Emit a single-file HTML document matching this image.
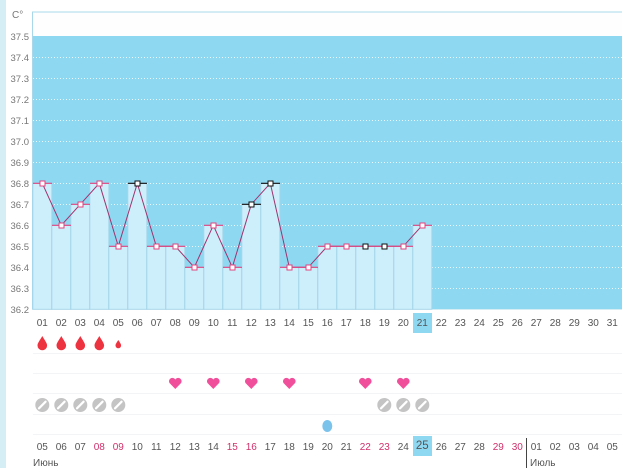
<!DOCTYPE html>
<html><head><meta charset="utf-8"><style>
html,body{margin:0;padding:0;background:#fff;}
svg{display:block;font-family:"Liberation Sans",sans-serif;}
</style></head><body>
<svg width="622" height="468" xmlns="http://www.w3.org/2000/svg">
<rect x="0" y="0" width="622" height="468" fill="#fff"/>
<rect x="0" y="0" width="6" height="468" fill="#d5eef6"/>
<rect x="32.5" y="12" width="590" height="297" fill="#fefefe" stroke="#a8d8ea" stroke-width="1"/>
<rect x="33" y="36" width="589" height="273" fill="#8fd8f2"/>
<g stroke="#e8f7fc" stroke-dasharray="1,2" stroke-width="1">
<line x1="33" x2="622" y1="57.5" y2="57.5"/><line x1="33" x2="622" y1="78.5" y2="78.5"/>
<line x1="33" x2="622" y1="99.5" y2="99.5"/><line x1="33" x2="622" y1="120.5" y2="120.5"/>
<line x1="33" x2="622" y1="141.5" y2="141.5"/><line x1="33" x2="622" y1="162.5" y2="162.5"/>
<line x1="33" x2="622" y1="183.5" y2="183.5"/><line x1="33" x2="622" y1="204.5" y2="204.5"/>
<line x1="33" x2="622" y1="225.5" y2="225.5"/><line x1="33" x2="622" y1="246.5" y2="246.5"/>
<line x1="33" x2="622" y1="267.5" y2="267.5"/><line x1="33" x2="622" y1="288.5" y2="288.5"/>
</g>
<g fill="#cdeefb" stroke="#a6d6ea" stroke-width="1">
<rect x="32.8" y="183.3" width="19" height="126"/>
<rect x="51.8" y="225.3" width="19" height="84"/>
<rect x="70.8" y="204.3" width="19" height="105"/>
<rect x="89.8" y="183.3" width="19" height="126"/>
<rect x="108.8" y="246.3" width="19" height="63"/>
<rect x="127.8" y="183.3" width="19" height="126"/>
<rect x="146.8" y="246.3" width="19" height="63"/>
<rect x="165.8" y="246.3" width="19" height="63"/>
<rect x="184.8" y="267.3" width="19" height="42"/>
<rect x="203.8" y="225.3" width="19" height="84"/>
<rect x="222.8" y="267.3" width="19" height="42"/>
<rect x="241.8" y="204.3" width="19" height="105"/>
<rect x="260.8" y="183.3" width="19" height="126"/>
<rect x="279.8" y="267.3" width="19" height="42"/>
<rect x="298.8" y="267.3" width="19" height="42"/>
<rect x="317.8" y="246.3" width="19" height="63"/>
<rect x="336.8" y="246.3" width="19" height="63"/>
<rect x="355.8" y="246.3" width="19" height="63"/>
<rect x="374.8" y="246.3" width="19" height="63"/>
<rect x="393.8" y="246.3" width="19" height="63"/>
<rect x="412.8" y="225.3" width="19" height="84"/>
</g>
<text x="12" y="18" fill="#777" font-size="10">C°</text>
<g fill="#777" font-size="9.5" text-anchor="end">
<text x="29" y="40">37.5</text><text x="29" y="61">37.4</text><text x="29" y="82">37.3</text>
<text x="29" y="103">37.2</text><text x="29" y="124">37.1</text><text x="29" y="145">37.0</text>
<text x="29" y="166">36.9</text><text x="29" y="187">36.8</text><text x="29" y="208">36.7</text>
<text x="29" y="229">36.6</text><text x="29" y="250">36.5</text><text x="29" y="271">36.4</text>
<text x="29" y="292">36.3</text><text x="29" y="313">36.2</text>
</g>
<polyline fill="none" stroke="#a0336e" stroke-width="1" points="42.3,183.3 61.3,225.3 80.3,204.3 99.3,183.3 118.3,246.3 137.3,183.3 156.3,246.3 175.3,246.3 194.3,267.3 213.3,225.3 232.3,267.3 251.3,204.3 270.3,183.3 289.3,267.3 308.3,267.3 327.3,246.3 346.3,246.3 365.3,246.3 384.3,246.3 403.3,246.3 422.3,225.3"/>
<g stroke-width="1.2">
<g stroke="#e0457f">
<line x1="33" x2="52" y1="183.3" y2="183.3"/><line x1="52" x2="71" y1="225.3" y2="225.3"/>
<line x1="71" x2="90" y1="204.3" y2="204.3"/><line x1="90" x2="109" y1="183.3" y2="183.3"/>
<line x1="109" x2="128" y1="246.3" y2="246.3"/><line x1="147" x2="166" y1="246.3" y2="246.3"/>
<line x1="166" x2="185" y1="246.3" y2="246.3"/><line x1="185" x2="204" y1="267.3" y2="267.3"/>
<line x1="204" x2="223" y1="225.3" y2="225.3"/><line x1="223" x2="242" y1="267.3" y2="267.3"/>
<line x1="280" x2="299" y1="267.3" y2="267.3"/><line x1="299" x2="318" y1="267.3" y2="267.3"/>
<line x1="318" x2="337" y1="246.3" y2="246.3"/><line x1="337" x2="356" y1="246.3" y2="246.3"/>
<line x1="356" x2="375" y1="246.3" y2="246.3"/><line x1="375" x2="394" y1="246.3" y2="246.3"/>
<line x1="394" x2="413" y1="246.3" y2="246.3"/><line x1="413" x2="432" y1="225.3" y2="225.3"/>
</g>
<g stroke="#111">
<line x1="128" x2="147" y1="183.3" y2="183.3"/><line x1="242" x2="261" y1="204.3" y2="204.3"/>
<line x1="261" x2="280" y1="183.3" y2="183.3"/>
</g>
</g>
<g fill="#fff" stroke="#e0457f" stroke-width="1">
<rect x="40" y="181" width="5" height="5"/><rect x="59" y="223" width="5" height="5"/>
<rect x="78" y="202" width="5" height="5"/><rect x="97" y="181" width="5" height="5"/>
<rect x="116" y="244" width="5" height="5"/><rect x="154" y="244" width="5" height="5"/>
<rect x="173" y="244" width="5" height="5"/><rect x="192" y="265" width="5" height="5"/>
<rect x="211" y="223" width="5" height="5"/><rect x="230" y="265" width="5" height="5"/>
<rect x="287" y="265" width="5" height="5"/><rect x="306" y="265" width="5" height="5"/>
<rect x="325" y="244" width="5" height="5"/><rect x="344" y="244" width="5" height="5"/>
<rect x="401" y="244" width="5" height="5"/><rect x="420" y="223" width="5" height="5"/>
</g>
<g fill="#fff" stroke="#111" stroke-width="1">
<rect x="135" y="181" width="5" height="5"/><rect x="249" y="202" width="5" height="5"/>
<rect x="268" y="181" width="5" height="5"/><rect x="363" y="244" width="5" height="5"/>
<rect x="382" y="244" width="5" height="5"/>
</g>
<g stroke="#f2f4f6" stroke-width="1">
<line x1="33" x2="622" y1="353.5" y2="353.5"/><line x1="33" x2="622" y1="373.5" y2="373.5"/>
<line x1="33" x2="622" y1="393.5" y2="393.5"/><line x1="33" x2="622" y1="414.5" y2="414.5"/>
<line x1="33" x2="622" y1="434.5" y2="434.5"/>
</g>
<rect x="413" y="313" width="19" height="20" fill="#8fd8f2"/>
<rect x="413" y="436" width="19" height="20" fill="#8fd8f2"/>
<g fill="#555" font-size="10" text-anchor="middle">
<text x="42.3" y="326">01</text><text x="61.3" y="326">02</text><text x="80.3" y="326">03</text><text x="99.3" y="326">04</text><text x="118.3" y="326">05</text><text x="137.3" y="326">06</text><text x="156.3" y="326">07</text><text x="175.3" y="326">08</text><text x="194.3" y="326">09</text><text x="213.3" y="326">10</text><text x="232.3" y="326">11</text><text x="251.3" y="326">12</text><text x="270.3" y="326">13</text><text x="289.3" y="326">14</text><text x="308.3" y="326">15</text><text x="327.3" y="326">16</text><text x="346.3" y="326">17</text><text x="365.3" y="326">18</text><text x="384.3" y="326">19</text><text x="403.3" y="326">20</text><text x="422.3" y="326">21</text><text x="441.3" y="326">22</text><text x="460.3" y="326">23</text><text x="479.3" y="326">24</text><text x="498.3" y="326">25</text><text x="517.3" y="326">26</text><text x="536.3" y="326">27</text><text x="555.3" y="326">28</text><text x="574.3" y="326">29</text><text x="593.3" y="326">30</text><text x="612.3" y="326">31</text>
<text x="42.3" y="450">05</text><text x="61.3" y="450">06</text><text x="80.3" y="450">07</text><text x="99.3" y="450" fill="#d0306a">08</text><text x="118.3" y="450" fill="#d0306a">09</text><text x="137.3" y="450">10</text><text x="156.3" y="450">11</text><text x="175.3" y="450">12</text><text x="194.3" y="450">13</text><text x="213.3" y="450">14</text><text x="232.3" y="450" fill="#d0306a">15</text><text x="251.3" y="450" fill="#d0306a">16</text><text x="270.3" y="450">17</text><text x="289.3" y="450">18</text><text x="308.3" y="450">19</text><text x="327.3" y="450">20</text><text x="346.3" y="450">21</text><text x="365.3" y="450" fill="#d0306a">22</text><text x="384.3" y="450" fill="#d0306a">23</text><text x="403.3" y="450">24</text><text x="422.3" y="449" font-size="11.5">25</text><text x="441.3" y="450">26</text><text x="460.3" y="450">27</text><text x="479.3" y="450">28</text><text x="498.3" y="450" fill="#d0306a">29</text><text x="517.3" y="450" fill="#d0306a">30</text><text x="536.3" y="450">01</text><text x="555.3" y="450">02</text><text x="574.3" y="450">03</text><text x="593.3" y="450">04</text><text x="612.3" y="450">05</text>
</g>
<g fill="#555" font-size="10"><text x="33" y="466">Июнь</text><text x="530" y="466">Июль</text></g>
<line x1="526.5" y1="438" x2="526.5" y2="468" stroke="#444" stroke-width="1"/>
<g fill="#ee3340">
<path d="M42.3,336 C40,340 37.5,343 37.5,345.5 A4.8,4.8 0 0 0 47.1,345.5 C47.1,343 44.6,340 42.3,336Z"/>
<path d="M61.3,336 C59,340 56.5,343 56.5,345.5 A4.8,4.8 0 0 0 66.1,345.5 C66.1,343 63.6,340 61.3,336Z"/>
<path d="M80.3,336 C78,340 75.5,343 75.5,345.5 A4.8,4.8 0 0 0 85.1,345.5 C85.1,343 82.6,340 80.3,336Z"/>
<path d="M99.3,336 C97,340 94.5,343 94.5,345.5 A4.8,4.8 0 0 0 104.1,345.5 C104.1,343 101.6,340 99.3,336Z"/>
<path d="M118.3,340 C117,342 115.5,344 115.5,345.5 A2.8,2.8 0 0 0 121.1,345.5 C121.1,344 119.6,342 118.3,340Z"/>
</g>
<g fill="#f04f9b">
<path d="M175.3,389 L169.5,383 A3,3 0 0 1 175.3,379.5 A3,3 0 0 1 181.1,383 Z"/>
<path d="M213.3,389 L207.5,383 A3,3 0 0 1 213.3,379.5 A3,3 0 0 1 219.1,383 Z"/>
<path d="M251.3,389 L245.5,383 A3,3 0 0 1 251.3,379.5 A3,3 0 0 1 257.1,383 Z"/>
<path d="M289.3,389 L283.5,383 A3,3 0 0 1 289.3,379.5 A3,3 0 0 1 295.1,383 Z"/>
<path d="M365.3,389 L359.5,383 A3,3 0 0 1 365.3,379.5 A3,3 0 0 1 371.1,383 Z"/>
<path d="M403.3,389 L397.5,383 A3,3 0 0 1 403.3,379.5 A3,3 0 0 1 409.1,383 Z"/>
</g>
<g fill="#c4c4c4">
<circle cx="42.3" cy="405" r="7"/><circle cx="61.3" cy="405" r="7"/><circle cx="80.3" cy="405" r="7"/><circle cx="99.3" cy="405" r="7"/><circle cx="118.3" cy="405" r="7"/>
<circle cx="384.3" cy="405" r="7"/><circle cx="403.3" cy="405" r="7"/><circle cx="422.3" cy="405" r="7"/>
</g>
<g stroke="#fff" stroke-width="2.2" stroke-linecap="round">
<line x1="39" y1="408.3" x2="45.6" y2="401.7"/><line x1="58" y1="408.3" x2="64.6" y2="401.7"/><line x1="77" y1="408.3" x2="83.6" y2="401.7"/><line x1="96" y1="408.3" x2="102.6" y2="401.7"/><line x1="115" y1="408.3" x2="121.6" y2="401.7"/>
<line x1="381" y1="408.3" x2="387.6" y2="401.7"/><line x1="400" y1="408.3" x2="406.6" y2="401.7"/><line x1="419" y1="408.3" x2="425.6" y2="401.7"/>
</g>
<ellipse cx="327.3" cy="426" rx="5" ry="6" fill="#7cc3ec"/>
</svg>
</body></html>
